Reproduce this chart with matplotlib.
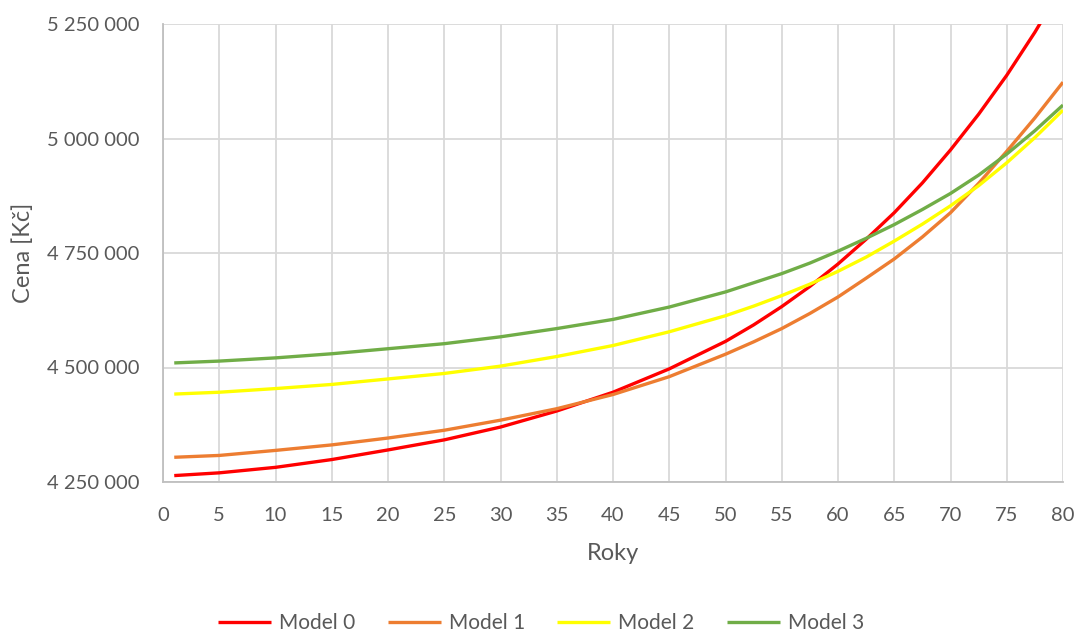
import matplotlib
matplotlib.use("Agg")
import matplotlib.pyplot as plt
from matplotlib.ticker import FuncFormatter, MultipleLocator

plt.rcParams['font.family'] = ['Lato', 'DejaVu Sans']

# Years and model prices (Kč)
years = [1, 5, 10, 15, 20, 25, 30, 35, 40, 45, 50,
         52.5, 55, 57.5, 60, 62.5, 65, 67.5, 70, 72.5, 75, 77.5, 80]
model_0 = [4264000, 4270000, 4282000, 4299000, 4320000, 4342000, 4370000, 4405000,
           4446000, 4497000, 4557000,
           4593000, 4633000, 4677000, 4726000, 4780000, 4838000, 4903000, 4975000,
           5053000, 5138000, 5232000, 5335000]
model_1 = [4304000, 4308000, 4319000, 4331000, 4346000, 4363000, 4385000, 4410000,
           4441000, 4480000, 4529000,
           4556000, 4585000, 4618000, 4654000, 4695000, 4737000, 4785000, 4838000,
           4902000, 4972000, 5045000, 5123000]
model_2 = [4442000, 4446000, 4454000, 4463000, 4475000, 4487000, 4503000, 4524000,
           4548000, 4578000, 4613000,
           4634000, 4657000, 4682000, 4710000, 4741000, 4776000, 4813000, 4853000,
           4897000, 4947000, 5002000, 5062000]
model_3 = [4510000, 4514000, 4521000, 4530000, 4541000, 4552000, 4567000, 4585000,
           4605000, 4632000, 4665000,
           4685000, 4705000, 4728000, 4754000, 4782000, 4812000, 4845000, 4880000,
           4920000, 4966000, 5017000, 5073000]

series = [("Model 0", model_0, "#FF0000"),
          ("Model 1", model_1, "#ED7D31"),
          ("Model 2", model_2, "#FFFF00"),
          ("Model 3", model_3, "#70AD47")]

text_color = "#595959"
grid_color = "#D9D9D9"

fig = plt.figure(figsize=(10.78, 6.31), dpi=100)
ax = fig.add_axes([163 / 1078, 1 - 482 / 631, 900 / 1078, 458 / 631])

for name, vals, col in series:
    ax.plot(years, vals, color=col, lw=2.4, label=name, solid_capstyle="butt",
            solid_joinstyle="round")

ax.set_xlim(0, 80)
ax.set_ylim(4250000, 5250000)
ax.xaxis.set_major_locator(MultipleLocator(5))
ax.yaxis.set_major_locator(MultipleLocator(250000))
ax.yaxis.set_major_formatter(FuncFormatter(lambda v, p: f"{v:,.0f}".replace(",", " ")))

ax.grid(True, color=grid_color, lw=1.3)
ax.set_axisbelow(True)
for side in ("top", "right"):
    ax.spines[side].set_visible(False)
for side in ("left", "bottom"):
    ax.spines[side].set_color("#BFBFBF")
    ax.spines[side].set_linewidth(1.3)

ax.tick_params(axis="both", length=0, labelsize=14.5, labelcolor=text_color)
ax.tick_params(axis="y", pad=17)
ax.tick_params(axis="x", pad=18)

ax.set_xlabel("Roky", fontsize=17, color=text_color, labelpad=14)
ax.set_ylabel("Cena [Kč]", fontsize=17, color=text_color, labelpad=9)

leg = fig.legend(loc="center", bbox_to_anchor=(541 / 1078, 1 - 623 / 631), ncol=4,
                 frameon=False, fontsize=15, handlelength=2.55, handletextpad=0.38,
                 columnspacing=1.55, labelcolor=text_color)

fig.savefig("out.png", dpi=100)
